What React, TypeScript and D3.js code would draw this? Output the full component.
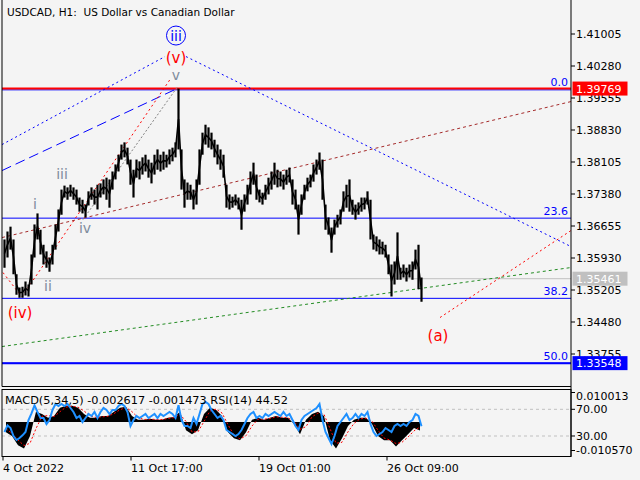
import React from "react";
import * as d3 from "d3";

// ---------- data ----------
const titleText = "USDCAD, H1:  US Dollar vs Canadian Dollar";
const macdLabel = "MACD(5,34,5) -0.002617 -0.001473 RSI(14) 44.52";

// H1 bars grouped by 3 hours (high / low), starting 4 Oct 2022 09:00
const priceHigh = [
  1.3635, 1.3653, 1.3664, 1.3635, 1.3556, 1.3526, 1.3528, 1.354, 1.3533, 1.3601,
  1.3669, 1.3694, 1.3657, 1.3623, 1.3608, 1.3594, 1.3623, 1.3669, 1.3703, 1.3748,
  1.3757, 1.3753, 1.3759, 1.3753, 1.3748, 1.373, 1.3725, 1.3714, 1.3744, 1.3753,
  1.3748, 1.3759, 1.3762, 1.3771, 1.3775, 1.3771, 1.3789, 1.3805, 1.3827, 1.385,
  1.3855, 1.3843, 1.3816, 1.3793, 1.3816, 1.3812, 1.3821, 1.3827, 1.3816, 1.3809,
  1.3827, 1.3839, 1.3827, 1.3834, 1.3827, 1.3839, 1.3843, 1.3855, 1.39769, 1.3839,
  1.3771, 1.3764, 1.3759, 1.3748, 1.3771, 1.3839, 1.3877, 1.3895, 1.3889, 1.3877,
  1.3861, 1.385, 1.3839, 1.3827, 1.3759, 1.3737, 1.3732, 1.3737, 1.373, 1.3725,
  1.3737, 1.3759, 1.3789, 1.3809, 1.3782, 1.3748, 1.3741, 1.3759, 1.3775, 1.3789,
  1.3809, 1.3793, 1.3789, 1.3782, 1.3793, 1.3798, 1.3771, 1.3748, 1.3714, 1.3737,
  1.3759, 1.3775, 1.3782, 1.3805, 1.3816, 1.3832, 1.3816, 1.3714, 1.3685, 1.3662,
  1.368, 1.3691, 1.3703, 1.3744, 1.3759, 1.3771, 1.3725, 1.3714, 1.3719, 1.373,
  1.373, 1.3744, 1.3725, 1.3646, 1.3642, 1.3635, 1.363, 1.3623, 1.3601, 1.3578,
  1.3585, 1.3651, 1.3571, 1.3578, 1.3571, 1.3578, 1.3585, 1.3612, 1.3623, 1.3549,
];
const priceLow = [
  1.3571, 1.3594, 1.3612, 1.3556, 1.351, 1.3503, 1.3503, 1.3508, 1.3506, 1.3533,
  1.3594, 1.3635, 1.3601, 1.3578, 1.3571, 1.3562, 1.3578, 1.3612, 1.3653, 1.3691,
  1.373, 1.3725, 1.3732, 1.3725, 1.3714, 1.3698, 1.3694, 1.3685, 1.3712, 1.3725,
  1.3714, 1.3703, 1.373, 1.3737, 1.3725, 1.3707, 1.3748, 1.3771, 1.3789, 1.3816,
  1.3821, 1.3805, 1.3759, 1.373, 1.3775, 1.3771, 1.3782, 1.3789, 1.3775, 1.3762,
  1.3782, 1.3793, 1.3789, 1.3793, 1.3798, 1.3805, 1.3812, 1.3821, 1.3839, 1.3748,
  1.3707, 1.3725, 1.3725, 1.3703, 1.3714, 1.3759, 1.3827, 1.385, 1.3843, 1.3839,
  1.3821, 1.3805, 1.3793, 1.3775, 1.3707, 1.3703, 1.3707, 1.3712, 1.3703, 1.3657,
  1.3698, 1.3714, 1.3737, 1.3759, 1.3725, 1.3719, 1.3714, 1.3725, 1.3737, 1.3748,
  1.3759, 1.3753, 1.3755, 1.3748, 1.3759, 1.3764, 1.3714, 1.3703, 1.3646, 1.3691,
  1.3725, 1.3744, 1.3753, 1.3766, 1.3782, 1.3793, 1.3725, 1.3657, 1.3646, 1.3605,
  1.3646, 1.3662, 1.3669, 1.3698, 1.3707, 1.3698, 1.3691, 1.368, 1.3691, 1.3698,
  1.3703, 1.3714, 1.3635, 1.3612, 1.3608, 1.3601, 1.3601, 1.3594, 1.3556, 1.3506,
  1.3533, 1.3544, 1.3544, 1.3549, 1.354, 1.3549, 1.3544, 1.3567, 1.3522, 1.3494,
];
const barsPerSample = 3;

// RSI(14), one value per 3 bars
const rsiValues = [
  36, 46, 42, 30, 24, 27, 31, 36, 54, 64,
  76, 66, 57, 57, 48, 54, 69, 78, 75, 78,
  75, 78, 72, 66, 57, 60, 51, 57, 63, 60,
  66, 57, 66, 72, 69, 63, 69, 69, 75, 78,
  75, 66, 45, 54, 60, 57, 60, 63, 57, 60,
  63, 57, 63, 60, 63, 66, 63, 57, 76, 54,
  45, 45, 42, 57, 48, 63, 78, 81, 78, 69,
  63, 57, 60, 54, 39, 36, 33, 30, 33, 39,
  48, 57, 63, 66, 57, 60, 57, 63, 60, 63,
  66, 63, 60, 66, 60, 63, 54, 45, 39, 54,
  60, 63, 66, 69, 72, 78, 54, 36, 27, 18,
  30, 45, 51, 57, 63, 54, 57, 63, 57, 63,
  60, 66, 48, 36, 30, 33, 36, 42, 39, 36,
  45, 48, 45, 48, 45, 51, 54, 63, 60, 44.52,
];

// MACD main / signal, one value per 6 bars
const macdMain = [
  -0.0031, -0.0043, -0.0071, -0.0081, -0.0043, 0.0032, 0.0025, 0.0013, 0.0019, 0.0044,
  0.005, 0.005, 0.0044, 0.0025, 0.0013, 0.0013, 0.0019, 0.0019, 0.0032, 0.0044,
  0.0047, 0.0019, 0.0007, 0.0007, 0.001, 0.0007, 0.0007, 0.0013, 0.0016, 0.0032,
  -0.0025, -0.0037, -0.0025, 0.0025, 0.0044, 0.0038, 0.0019, -0.0031, -0.005, -0.0056,
  -0.0031, 0.0007, 0.0013, 0.0007, 0.0013, 0.0019, 0.0013, 0.0013, -0.0006, -0.0037,
  0.0007, 0.0025, 0.0032, 0.0019, -0.0056, -0.0081, -0.005, -0.0012, 0.0007, 0.0013,
  0.0013, -0.0006, -0.0043, -0.0056, -0.0056, -0.0075, -0.0056, -0.0037, -0.0018, -0.0026,
];
const macdSignal = [
  -0.002, -0.0035, -0.0055, -0.0072, -0.0065, -0.002, 0.0018, 0.002, 0.0017, 0.0032,
  0.0046, 0.0049, 0.0046, 0.0034, 0.002, 0.0014, 0.0016, 0.0018, 0.0026, 0.0038,
  0.0045, 0.0032, 0.0014, 0.0008, 0.0009, 0.0008, 0.0008, 0.0011, 0.0014, 0.0024,
  0.0002, -0.003, -0.003, 0.0002, 0.0034, 0.004, 0.0028, -0.0008, -0.004, -0.0052,
  -0.0042, -0.0012, 0.0009, 0.0009, 0.0011, 0.0016, 0.0015, 0.0013, 0.0003, -0.0022,
  -0.0014, 0.0016, 0.0028, 0.0024, -0.002, -0.0065, -0.0062, -0.003, -0.0004, 0.001,
  0.0012, 0.0003, -0.0025, -0.0049, -0.0055, -0.0066, -0.0062, -0.0046, -0.0027, -0.0015,
];
const macdBarsPerSample = 6;

const priceTicks = [1.41005, 1.4028, 1.39555, 1.3883, 1.38105, 1.3738, 1.36655, 1.3593, 1.35205, 1.3448, 1.33755];
const dateTickBars = [0, 128, 256, 384];
const dateTickLabels = ["4 Oct 2022", "11 Oct 17:00", "19 Oct 01:00", "26 Oct 09:00"];

const macdMax = 0.010013;
const macdMin = -0.01057;
const rsiLevels = [70, 30];

const fibNames = ["0.0", "23.6", "38.2", "50.0"];
const fibPrices = [1.39769, 1.36833, 1.35016, 1.33548];

const hLinePrices = [1.39769, 1.35461, 1.33548];
const hLineColors = ["#ff0000", "#c0c0c0", "#0000ff"];
const hLineWidths = [2, 1, 2];

// trend lines: [bar1, price1, bar2, price2]
const trendLines: [number, number, number, number][] = [
  [-1, 1.385, 162, 1.40494],
  [183, 1.40494, 568, 1.36189],
  [-1, 1.37911, 172, 1.39746],
  [19, 1.35057, 167, 1.39973],
  [0, 1.356, 17, 1.35102],
  [80, 1.36801, 174, 1.39792],
  [32, 1.36643, 44, 1.35827],
  [-1, 1.36393, 568, 1.39474],
  [-1, 1.33924, 568, 1.35714],
  [437, 1.34581, 568, 1.36552],
];
const trendColors = ["#0000ff", "#0000ff", "#0000ff", "#ff0000", "#ff0000", "#808080", "#808080", "#a52a2a", "#228b22", "#ff0000"];
const trendDash = ["2,3", "2,3", "10,5", "2,3", "2,3", "2,2", "2,2", "3,3", "3,3", "2,3"];

const waveTexts = ["(v)", "v", "i", "iii", "iv", "ii", "(iv)", "(a)"];
const waveBars = [173, 173, 32, 59, 82, 45, 17, 435];
const wavePrices = [1.40358, 1.39973, 1.3705, 1.3773, 1.36507, 1.35193, 1.34581, 1.3406];
const waveColors = ["#ff0000", "#7f8c9c", "#7f8c9c", "#7f8c9c", "#7f8c9c", "#7f8c9c", "#ff0000", "#ff0000"];
const circledText = "iii";
const circledBar = 173;
const circledPrice = 1.4097;

// ---------- layout ----------
const W = 640;
const H = 480;
const left = 2;
const right = 571;
const mainBottom = 386.5;
const subTop = 389.5;
const subBottom = 456.5;
const FONT = "DejaVu Sans";
const BG = "#f4f4f4";

export default function App() {
  const x = d3.scaleLinear().domain([0, 568]).range([3, 571]);
  const y = d3.scaleLinear().domain([1.33755, 1.41005]).range([354, 34]);
  const yM = d3.scaleLinear().domain([macdMin, macdMax]).range([subBottom, subTop]);
  const yR = d3.scaleLinear().domain([0, 100]).range([456, 389.3]);

  const macdArea = d3
    .area<number>()
    .x((_, i) => x(i * macdBarsPerSample + 3))
    .y0(yM(0))
    .y1((d) => yM(d));
  const sigLine = d3
    .line<number>()
    .x((_, i) => x(i * macdBarsPerSample + 3))
    .y((d) => yM(d));
  const rsiLine = d3
    .line<number>()
    .x((_, i) => x(i * barsPerSample + 1.5))
    .y((d) => yR(d));
  const midLine = d3
    .line<number>()
    .x((_, i) => x(i * barsPerSample + 1.5))
    .y((d, i) => (y(d) + y(priceLow[i])) / 2);

  return (
    <svg
      width={W}
      height={H}
      style={{ position: "fixed", left: 0, top: 0, background: BG }}
      fontFamily={FONT}
    >
      <defs>
        <clipPath id="mainClip">
          <rect x={left} y={0} width={right - left} height={mainBottom} />
        </clipPath>
        <clipPath id="subClip">
          <rect x={left} y={subTop} width={right - left} height={subBottom - subTop} />
        </clipPath>
      </defs>
      <rect x={0} y={0} width={W} height={H} fill={BG} />

      {/* main panel */}
      <g clipPath="url(#mainClip)">
        {fibPrices.map((p, i) => (
          <line key={"f" + i} x1={left} x2={right} y1={y(p) + (i === 0 ? 1.3 : 0)} y2={y(p) + (i === 0 ? 1.3 : 0)} stroke="#0000ff" strokeWidth={1} />
        ))}
        {hLinePrices.map((p, i) => (
          <line key={"h" + i} x1={left} x2={right} y1={y(p)} y2={y(p)} stroke={hLineColors[i]} strokeWidth={hLineWidths[i]} />
        ))}
        {trendLines.map((t, i) => (
          <line
            key={"t" + i}
            x1={x(t[0])}
            y1={y(t[1])}
            x2={x(t[2])}
            y2={y(t[3])}
            stroke={trendColors[i]}
            strokeWidth={1}
            strokeDasharray={trendDash[i]}
          />
        ))}
        <path d={midLine(priceHigh) || ""} fill="none" stroke="#000" strokeWidth={1.6} />
        {priceHigh.map((hi, i) => {
          const cx = x(i * barsPerSample + 1.5);
          return (
            <line key={"b" + i} x1={cx} x2={cx} y1={y(hi)} y2={y(priceLow[i])} stroke="#000" strokeWidth={2.2} />
          );
        })}
        {fibPrices.map((p, i) => (
          <text key={"fl" + i} x={568} y={y(p) - 3} fontSize={11} fill="#0000ff" textAnchor="end">
            {fibNames[i]}
          </text>
        ))}
        {waveTexts.map((t, i) => (
          <text
            key={"w" + i}
            x={x(waveBars[i])}
            y={y(wavePrices[i])}
            fontSize={waveColors[i] === "#ff0000" ? 15 : 14}
            fill={waveColors[i]}
            textAnchor="middle"
          >
            {t}
          </text>
        ))}
        <circle cx={x(circledBar)} cy={y(circledPrice)} r={9.5} fill="none" stroke="#0000ff" strokeWidth={1} />
        <text x={x(circledBar)} y={y(circledPrice) + 5} fontSize={14} fill="#0000ff" textAnchor="middle">
          {circledText}
        </text>
      </g>
      <text x={7} y={16} fontSize={10.5} fill="#000" style={{ whiteSpace: "pre" }} xmlSpace="preserve">
        {titleText}
      </text>

      {/* sub panel */}
      <g clipPath="url(#subClip)">
        {rsiLevels.map((lv) => (
          <line key={"rl" + lv} x1={left} x2={right} y1={yR(lv)} y2={yR(lv)} stroke="#c0c0c0" strokeDasharray="3,3" />
        ))}
        <path d={macdArea(macdMain) || ""} fill="#000" />
        <path d={sigLine(macdSignal) || ""} fill="none" stroke="#ff0000" strokeWidth={1} strokeDasharray="2,2" />
        <path d={rsiLine(rsiValues) || ""} fill="none" stroke="#1e90ff" strokeWidth={2} />
      </g>
      <text x={5} y={404} fontSize={11.3} fill="#000">
        {macdLabel}
      </text>

      {/* frames */}
      <line x1={left} x2={left} y1={0} y2={mainBottom} stroke="#000" />
      <line x1={left} x2={right} y1={mainBottom} y2={mainBottom} stroke="#000" />
      <rect x={left} y={subTop} width={right - left} height={subBottom - subTop} fill="none" stroke="#000" />
      <line x1={right} x2={right} y1={0} y2={subBottom} stroke="#000" />

      {/* price axis */}
      {priceTicks.map((p) => (
        <g key={"pt" + p}>
          <line x1={right} x2={right + 4} y1={y(p)} y2={y(p)} stroke="#000" />
          <text x={576} y={y(p) + 4} fontSize={11} fill="#000">
            {p.toFixed(5)}
          </text>
        </g>
      ))}
      {hLinePrices.map((p, i) => (
        <g key={"tag" + i}>
          <rect x={572.5} y={y(p) - 7} width={55} height={14} fill={hLineColors[i]} />
          <text x={576} y={y(p) + 4} fontSize={11} fill="#fff">
            {p.toFixed(5)}
          </text>
        </g>
      ))}

      {/* sub axis */}
      <line x1={right} x2={right + 4} y1={yM(macdMax) + 3} y2={yM(macdMax) + 3} stroke="#000" />
      <text x={576} y={yM(macdMax) + 10} fontSize={11} fill="#000">
        {macdMax.toFixed(6)}
      </text>
      {rsiLevels.map((lv) => (
        <g key={"rt" + lv}>
          <line x1={right} x2={right + 4} y1={yR(lv)} y2={yR(lv)} stroke="#000" />
          <text x={576} y={yR(lv) + 4} fontSize={11} fill="#000">
            {lv.toFixed(2)}
          </text>
        </g>
      ))}
      <line x1={right} x2={right + 4} y1={yM(macdMin) - 6} y2={yM(macdMin) - 6} stroke="#000" />
      <text x={576} y={yM(macdMin) - 3} fontSize={11} fill="#000">
        {macdMin.toFixed(6)}
      </text>

      {/* time axis */}
      {dateTickBars.map((b, i) => (
        <g key={"dt" + b}>
          <line x1={x(b)} x2={x(b)} y1={subBottom} y2={subBottom + 4} stroke="#000" />
          <text x={x(b)} y={472} fontSize={11} fill="#000">
            {dateTickLabels[i]}
          </text>
        </g>
      ))}
    </svg>
  );
}
